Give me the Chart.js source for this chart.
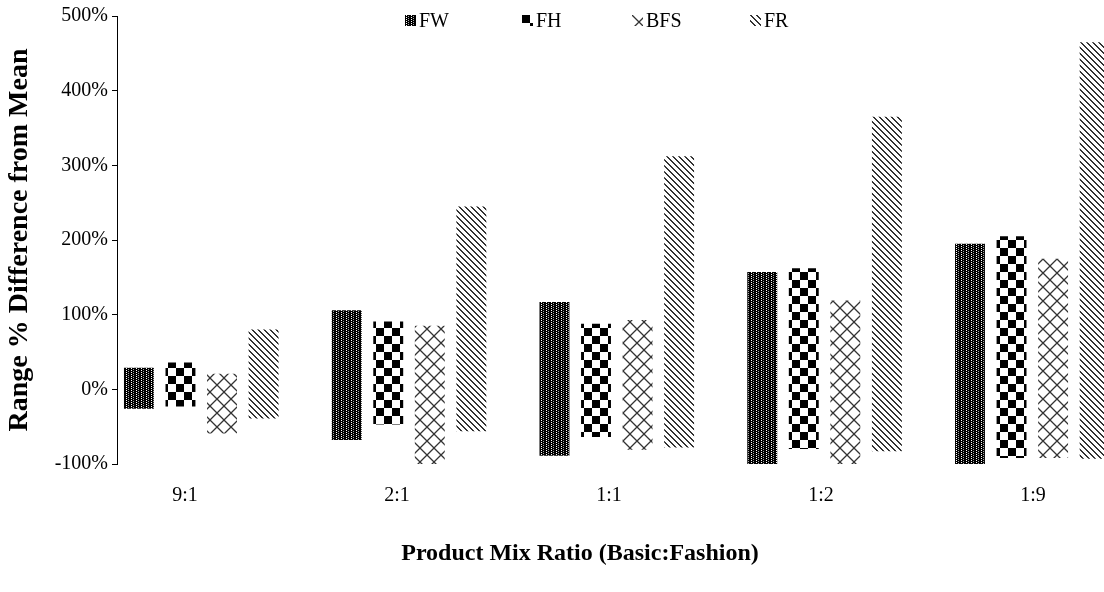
<!DOCTYPE html>
<html>
<head>
<meta charset="utf-8">
<script src="https://cdn.jsdelivr.net/npm/chart.js@4.4.0/dist/chart.umd.min.js"></script>
<style>
  body { margin: 0; overflow: hidden; background: #fff; }
  #wrap { position: relative; width: 1104px; height: 592px; }
  .item { position: absolute; top: 9px; font: 20px 'Liberation Serif', serif; color: #000; display: flex; align-items: center; }
  .item canvas { margin-right: 3px; }
  #xtitle { position: absolute; left: 380px; width: 400px; top: 539px; text-align: center; font: bold 24px 'Liberation Serif', serif; color: #000; }
</style>
</head>
<body>
<div id="wrap">
  <canvas id="chart" width="1104" height="592"></canvas>
  <div id="legend"></div>
  <div id="xtitle">Product Mix Ratio (Basic:Fashion)</div>
</div>
<script>
// product mix ratios (basic:fashion)
var ratios = ['9:1', '2:1', '1:1', '1:2', '1:9'];
var seriesNames = ['FW', 'FH', 'BFS', 'FR'];

// range of % difference from mean, low and high end of each bar
var fwLow = [-26, -68, -89, -100, -100];
var fwHigh = [29, 106, 117, 157, 195];
var fhLow = [-23, -47, -64, -80, -92];
var fhHigh = [36, 91, 88, 162, 205];
var bfsLow = [-59, -100, -81, -100, -92];
var bfsHigh = [21, 85, 93, 119, 175];
var frLow = [-39, -56, -78, -83, -93];
var frHigh = [80, 245, 312, 365, 465];

var yTicks = [-100, 0, 100, 200, 300, 400, 500];

var serif = "'Liberation Serif', 'Times New Roman', serif";

function makePattern(w, h, draw) {
  var c = document.createElement('canvas');
  c.width = w; c.height = h;
  var g = c.getContext('2d');
  draw(g);
  return g.createPattern(c, 'repeat');
}

// fills, roughly like the excel pattern fills
var patterns = [
  makePattern(5, 4, function(g) { // FW: dark with light dots
    g.fillStyle = '#000'; g.fillRect(0, 0, 5, 4);
    g.fillStyle = '#fff'; g.fillRect(1, 0, 1, 1); g.fillRect(1, 2, 1, 1);
    g.fillStyle = '#aaa'; g.fillRect(3, 1, 1, 1); g.fillRect(3, 3, 1, 1);
  }),
  makePattern(16, 16, function(g) { // FH: large checker
    g.fillStyle = '#fff'; g.fillRect(0, 0, 16, 16);
    g.fillStyle = '#000'; g.fillRect(0, 0, 8, 8); g.fillRect(8, 8, 8, 8);
  }),
  makePattern(14, 14, function(g) { // BFS: diagonal lattice
    g.fillStyle = '#fff'; g.fillRect(0, 0, 14, 14);
    g.strokeStyle = '#333'; g.lineWidth = 1.3;
    g.beginPath(); g.moveTo(0, 0); g.lineTo(14, 14); g.moveTo(14, 0); g.lineTo(0, 14); g.stroke();
  }),
  makePattern(6, 6, function(g) { // FR: downward diagonal
    g.fillStyle = '#fff'; g.fillRect(0, 0, 6, 6);
    g.fillStyle = '#333';
    for (var i = 0; i < 6; i++) { g.fillRect(i, i, 1, 1); g.fillRect((i + 1) % 6, i, 1, 1); }
  })
];

function pairs(lo, hi) {
  return ratios.map(function(r, i) { return { x: i, y: [lo[i], hi[i]] }; });
}

function ratioTicks(s) {
  s.ticks = ratios.map(function(r, i) { return { value: i }; });
}

var lows = [fwLow, fhLow, bfsLow, frLow];
var highs = [fwHigh, fhHigh, bfsHigh, frHigh];

var datasets = seriesNames.map(function(name, k) {
  return {
    label: name,
    data: pairs(lows[k], highs[k]),
    backgroundColor: patterns[k],
    borderWidth: 0,
    categoryPercentage: 0.8,
    barPercentage: 0.72
  };
});

var ctx = document.getElementById('chart').getContext('2d');
var myChart = new Chart(ctx, {
  type: 'bar',
  data: { datasets: datasets },
  options: {
    responsive: false,
    animation: false,
    devicePixelRatio: 1,
    layout: { padding: { top: 12, left: 3, right: 0, bottom: 0 } },
    plugins: { legend: { display: false }, tooltip: { enabled: false } },
    scales: {
      // bars are placed on this one
      x: {
        type: 'linear',
        display: false,
        offset: false,
        min: -0.4055,
        max: 4.345,
        afterBuildTicks: ratioTicks
      },
      // category labels sit on a slightly wider spacing than the bars
      xLabels: {
        type: 'linear',
        position: 'bottom',
        offset: false,
        min: -0.3208,
        max: 4.335,
        afterBuildTicks: ratioTicks,
        afterFit: function(s) { s.height = 128; },
        ticks: {
          callback: function(v) { return ratios[v]; },
          font: { family: serif, size: 20 },
          color: '#000',
          padding: 12
        },
        grid: { display: false },
        border: { display: false }
      },
      y: {
        min: -100,
        max: 500,
        afterBuildTicks: function(s) { s.ticks = yTicks.map(function(v) { return { value: v }; }); },
        afterFit: function(s) { s.width = 114; },
        ticks: {
          callback: function(v) { return v + '%'; },
          font: { family: serif, size: 20 },
          color: '#000',
          padding: 4
        },
        grid: { drawOnChartArea: false, drawTicks: true, tickLength: 5, color: '#000', lineWidth: 1 },
        border: { display: true, color: '#000', width: 1 },
        title: {
          display: true,
          text: 'Range % Difference from Mean',
          font: { family: serif, size: 28, weight: 'bold' },
          color: '#000',
          padding: { top: 0, bottom: 0 }
        }
      }
    }
  }
});

// legend sits inside the plot like the excel one
var legendLeft = [405, 522, 632, 750];
var legendEl = document.getElementById('legend');
seriesNames.forEach(function(name, k) {
  var item = document.createElement('div');
  item.className = 'item';
  item.style.left = legendLeft[k] + 'px';
  var sw = document.createElement('canvas');
  sw.width = 11; sw.height = 11;
  var g = sw.getContext('2d');
  g.fillStyle = patterns[k];
  g.fillRect(0, 0, 11, 11);
  item.appendChild(sw);
  var t = document.createElement('span');
  t.textContent = name;
  item.appendChild(t);
  legendEl.appendChild(item);
});
</script>
</body>
</html>
